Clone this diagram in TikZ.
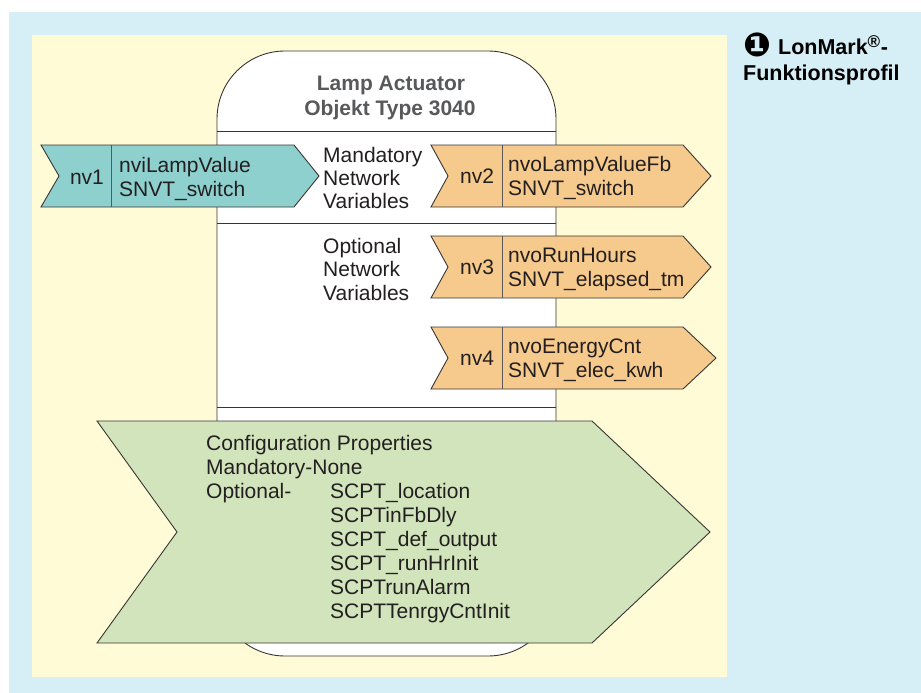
\documentclass[tikz,border=0pt]{standalone}
\usepackage{fontspec}
\setmainfont{Liberation Sans}
\newfontfamily\dingfont{DejaVu Sans}
\usepackage{tikz}
\usetikzlibrary{calc, positioning}
\usepackage{xcolor}
\definecolor{pageBlue}{RGB}{214, 238, 245}
\definecolor{panelYellow}{RGB}{255, 251, 214}
\definecolor{nvIn}{RGB}{142, 208, 206}
\definecolor{nvOut}{RGB}{246, 202, 140}
\definecolor{cfgGreen}{RGB}{209, 228, 188}
\definecolor{titleGray}{RGB}{88, 89, 91}
\definecolor{ink}{RGB}{35, 31, 32}

\tikzset{
  txt/.style={anchor=base west, inner sep=0pt, text=ink},
  outline/.style={draw=ink!90, line width=0.9pt},
  divider/.style={draw=ink!75, line width=0.8pt}
}

\begin{document}
\begin{tikzpicture}[x=1pt, y=-1pt, font=\fontsize{21}{24}\selectfont]
  \useasboundingbox (0,0) rectangle (921,693);
  % page and panel
  \fill[pageBlue] (9,12) rectangle (921,693);
  \fill[panelYellow] (32,35) rectangle (727,677);

  % functional block
  \draw[outline, fill=white, rounded corners=68pt] (217,51) rectangle (556,656);
  \draw[outline] (217,131) -- (556,131);
  \draw[outline] (217,223) -- (556,223);
  \draw[outline] (217,407) -- (556,407);
  \node[anchor=base, inner sep=0pt, text=titleGray, font=\fontsize{21}{24}\selectfont\bfseries] (title) at (391,90) {Lamp Actuator};
  \node[anchor=base, inner sep=0pt, text=titleGray, font=\fontsize{21}{24}\selectfont\bfseries] (objtype) at (390,115) {Objekt Type 3040};

  % group labels
  \node[txt] (mand1) at (323,162) {Mandatory};
  \node[txt] (mand2) at (323,185) {Network};
  \node[txt] (mand3) at (323,208) {Variables};
  \node[txt] (opt1) at (323,253) {Optional};
  \node[txt] (opt2) at (323,276) {Network};
  \node[txt] (opt3) at (323,300) {Variables};

  % input nv1
  \draw[outline, fill=nvIn] (41,145) -- (294,145) -- (319,176) -- (294,207) -- (41,207) -- (59,176) -- cycle;
  \draw[divider] (111,145) -- (111,207);
  \node[anchor=base, inner sep=0pt, text=ink] (nv1) at (87,184) {nv1};
  \node[txt] (nv1-var) at (119,172) {nviLampValue};
  \node[txt] (nv1-type) at (119,196) {SNVT\_switch};

  % outputs nv2..nv4
  \foreach \nv/\ytop/\xtip/\vname/\vtype in {
      nv2/145/711/nvoLampValueFb/SNVT\_switch,
      nv3/236/711/nvoRunHours/SNVT\_elapsed\_tm,
      nv4/327/716/nvoEnergyCnt/SNVT\_elec\_kwh}{
    \draw[outline, fill=nvOut] (431,\ytop) -- (683,\ytop) -- (\xtip,\ytop+31) -- (683,\ytop+62)
      -- (431,\ytop+62) -- (448,\ytop+31) -- cycle;
    \draw[divider] (502,\ytop) -- (502,\ytop+62);
    \node[anchor=base, inner sep=0pt, text=ink] (\nv) at (477,\ytop+38) {\nv};
    \node[txt] (\nv-var) at (508,\ytop+26) {\vname};
    \node[txt] (\nv-type) at (508,\ytop+50) {\vtype};
  }

  % configuration properties
  \draw[outline, fill=cfgGreen] (97,421) -- (592,421) -- (710,532) -- (592,643) -- (97,643) -- (177,532) -- cycle;
  \node[txt] (cfg) at (206,450) {Configuration Properties};
  \node[txt] (cfg-mand) at (206,474) {Mandatory-None};
  \node[txt] (cfg-opt) at (206,498) {Optional-};
  \foreach \scpt [count=\i from 0] in {SCPT\_location, SCPTinFbDly, SCPT\_def\_output,
      SCPT\_runHrInit, SCPTrunAlarm, SCPTTenrgyCntInit}
    \node[txt] (scpt\i) at (330,498+24*\i) {\scpt};

  % caption
  \node[txt, text=black, font=\fontsize{21.5}{24}\selectfont\bfseries] (caption1) at (743,55)
    {\raisebox{-1.5pt}{\dingfont\fontsize{33}{24}\selectfont ❶}\hspace*{7pt}LonMark\textsuperscript{\fontsize{17}{20}\selectfont ®}-};
  \node[txt, text=black, font=\fontsize{21.5}{24}\selectfont\bfseries] (caption2) at (743,81) {Funktionsprofil};
\end{tikzpicture}
\end{document}
